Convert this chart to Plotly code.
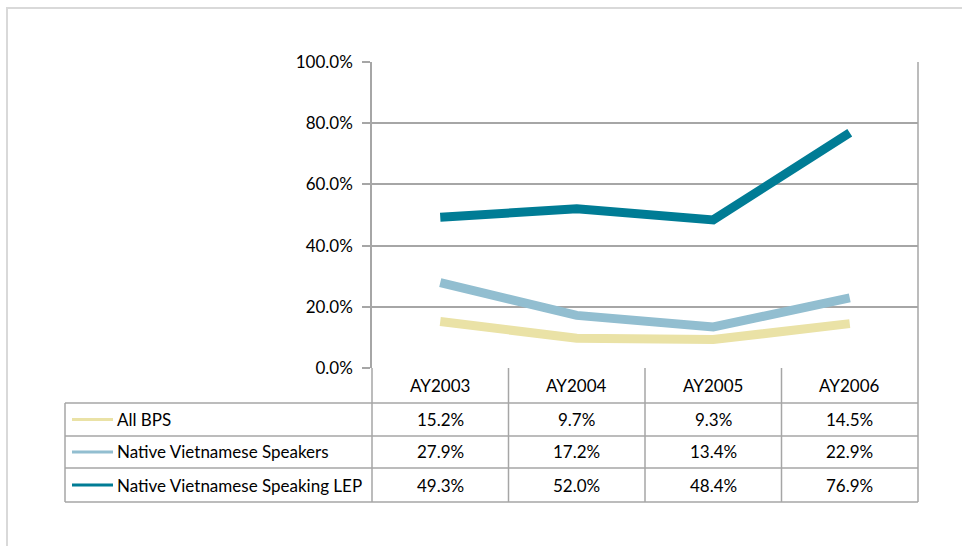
import plotly.graph_objects as go

W, H = 962, 546

categories = ["AY2003", "AY2004", "AY2005", "AY2006"]
all_bps = [0.152, 0.097, 0.093, 0.145]
native_viet = [0.279, 0.172, 0.134, 0.229]
native_viet_lep = [0.493, 0.520, 0.484, 0.769]
series_names = ["All BPS", "Native Vietnamese Speakers", "Native Vietnamese Speaking LEP"]
series_values = [all_bps, native_viet, native_viet_lep]
series_colors = ["#EAE2A6", "#92BED0", "#007C95"]

FONT = "Lato"
FS = 17
GRID = "#A6A6A6"


def px(x):
    return x / W


def py(y):
    return 1 - y / H


# plot area geometry (pixels)
PL, PR, PT, PB = 372, 918, 62, 368
TL = 65
row_bounds = [403, 436, 468, 502]

fig = go.Figure()
for name, vals, col in zip(series_names, series_values, series_colors):
    fig.add_trace(go.Scatter(
        x=categories, y=vals, mode="lines", name=name,
        line=dict(color=col, width=9), showlegend=False, hoverinfo="skip"))

shapes = []
ann = []


def hline(y, x0, x1, color=GRID, w=1.5):
    shapes.append(dict(type="line", xref="paper", yref="paper",
                       x0=px(x0), x1=px(x1), y0=py(y), y1=py(y),
                       line=dict(color=color, width=w)))


def vline(x, y0, y1, color=GRID, w=1.5, xref="paper"):
    shapes.append(dict(type="line", xref=xref, yref="paper",
                       x0=x if xref != "paper" else px(x),
                       x1=x if xref != "paper" else px(x),
                       y0=py(y0), y1=py(y1),
                       line=dict(color=color, width=w)))


# outer chart border
hline(8, 6, W, color="#D9D9D9", w=2)
vline(7, 8, H, color="#D9D9D9", w=2)

# plot right border
vline(PR, PT, row_bounds[-1])
# y axis continuation down through the table
vline(PL, PB, row_bounds[-1])
# left edge of table
vline(TL, row_bounds[0], row_bounds[-1])
# column separators at category boundaries
for b in [0.5, 1.5, 2.5]:
    vline(b, PB, row_bounds[-1], xref="x")
# horizontal table lines
for y in row_bounds:
    hline(y, TL, PR)

# header labels
for i, c in enumerate(categories):
    ann.append(dict(x=c, xref="x", y=py((PB + row_bounds[0]) / 2), yref="paper",
                    text=c, showarrow=False, font=dict(family=FONT, size=FS, color="#000"),
                    xanchor="center", yanchor="middle"))

# rows
for r, (name, vals, col) in enumerate(zip(series_names, series_values, series_colors)):
    yc = (row_bounds[r] + row_bounds[r + 1]) / 2
    shapes.append(dict(type="line", xref="paper", yref="paper",
                       x0=px(72), x1=px(113), y0=py(yc), y1=py(yc),
                       line=dict(color=col, width=3)))
    ann.append(dict(x=px(115), xref="paper", y=py(yc), yref="paper", text=name,
                    showarrow=False, xanchor="left", yanchor="middle",
                    font=dict(family=FONT, size=FS, color="#000")))
    for c, v in zip(categories, vals):
        ann.append(dict(x=c, xref="x", y=py(yc), yref="paper", text=f"{v*100:.1f}%",
                        showarrow=False, xanchor="center", yanchor="middle",
                        font=dict(family=FONT, size=FS, color="#000")))

fig.update_layout(
    width=W, height=H, autosize=False,
    margin=dict(l=0, r=0, t=0, b=0, pad=0, autoexpand=False),
    showlegend=False,
    paper_bgcolor="white", plot_bgcolor="white",
    font=dict(family=FONT, size=FS, color="#000"),
    xaxis=dict(domain=[px(PL), px(PR)], range=[-0.5, 3.5], type="category",
               showgrid=False, showticklabels=False, ticks="", zeroline=False,
               showline=False, fixedrange=True, automargin=False),
    yaxis=dict(domain=[py(PB), py(PT)], range=[0, 1], tickformat=".1%",
               dtick=0.2, tick0=0, showgrid=True, gridcolor=GRID, gridwidth=1.5,
               showline=True, linecolor=GRID, linewidth=1.5,
               ticks="outside", ticklen=8, tickcolor=GRID, tickwidth=1.5,
               ticklabelstandoff=6, automargin=False,
               zeroline=False, tickfont=dict(family=FONT, size=FS, color="#000"),
               fixedrange=True),
    shapes=shapes, annotations=ann,
)

post = """
document.documentElement.style.margin='0';
document.documentElement.style.padding='0';
document.documentElement.style.overflow='hidden';
document.body.style.margin='0';
document.body.style.padding='0';
document.body.style.overflow='hidden';
var gd=document.getElementById('{plot_id}');
gd.style.position='absolute'; gd.style.left='0px'; gd.style.top='0px';
Plotly.relayout(gd,{width:962,height:546});
"""

fig.write_html("out.html", post_script=post, config={"displayModeBar": False})
